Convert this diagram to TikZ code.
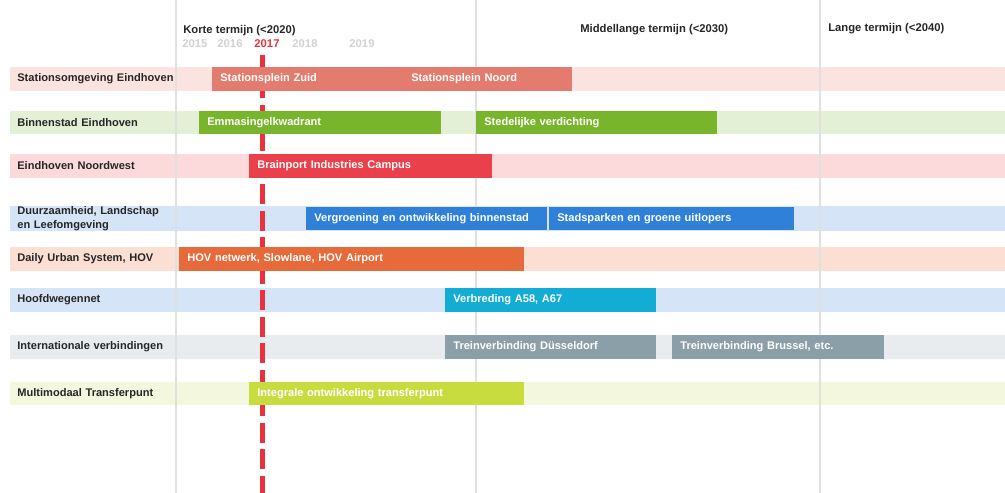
\documentclass[tikz,border=0pt]{standalone}
\usepackage{fontspec}
\setmainfont{Liberation Sans}
\usetikzlibrary{positioning}

\definecolor{stationBar}{HTML}{E37B6F}
\definecolor{stationBand}{HTML}{FBE4E0}
\definecolor{greenBar}{HTML}{78B52C}
\definecolor{greenBand}{HTML}{E3F0D6}
\definecolor{redBar}{HTML}{E9404C}
\definecolor{redBand}{HTML}{FCDADB}
\definecolor{blueBar}{HTML}{2F80D8}
\definecolor{blueBand}{HTML}{D5E5F7}
\definecolor{orangeBar}{HTML}{E66A3A}
\definecolor{orangeBand}{HTML}{FBDFD3}
\definecolor{cyanBar}{HTML}{13ACD4}
\definecolor{greyBar}{HTML}{8B9FA8}
\definecolor{greyBand}{HTML}{E9ECEE}
\definecolor{limeBar}{HTML}{C8DC40}
\definecolor{limeBand}{HTML}{F2F7DD}
\definecolor{nowRed}{HTML}{E8333F}

\begin{document}
\begin{tikzpicture}[
    x=0.02cm, y=-0.02cm,
    band/.style={
        anchor=west,
        minimum width=19.9cm,
        minimum height=0.47cm,
        text width=19.62cm,
        inner xsep=0.14cm,
        inner ysep=0pt,
        align=left,
        font=\fontsize{6.3}{7.9}\selectfont\bfseries,
        text=black!85
    },
    bar/.style={
        anchor=west,
        minimum height=0.47cm,
        inner xsep=0.16cm,
        inner ysep=0pt,
        align=left,
        font=\fontsize{6.3}{7.4}\selectfont\bfseries,
        text=white
    },
    period/.style={
        anchor=west,
        inner xsep=0pt,
        font=\fontsize{6.4}{7.4}\selectfont\bfseries,
        text=black!85
    },
    yearlbl/.style={
        font=\fontsize{6.4}{7.4}\selectfont\bfseries,
        text=black!18
    },
    gridline/.style={
        line width=1pt,
        color=black!12
    },
    nowline/.style={
        line width=0.1cm,
        color=nowRed,
        dash pattern=on 0.4cm off 0.13cm,
        dash phase=0.06cm
    }
]

\useasboundingbox (0,0) rectangle (1005,493);

% Periods and years
\node[period] (korte)  at (183, 31) {Korte termijn (<2020)};
\node[period] (middel) at (580, 30) {Middellange termijn (<2030)};
\node[period] (lange)  at (828, 29) {Lange termijn (<2040)};
\foreach \yr/\xp in {2015/195, 2016/230, 2018/305, 2019/362}
    \node[yearlbl] (y\yr) at (\xp, 44) {\yr};
\node[yearlbl, text=nowRed] (y2017) at (267, 44) {2017};

% Rows (band + label)
\node[band, fill=stationBand] (station)   at (10, 79)    {Stationsomgeving Eindhoven};
\node[band, fill=greenBand]   (binnen)    at (10, 122.5) {Binnenstad Eindhoven};
\node[band, fill=redBand]     (noordwest) at (10, 166)   {Eindhoven Noordwest};
\node[band, fill=blueBand]    (duurzaam)  at (10, 218.5) {Duurzaamheid, Landschap\\en Leefomgeving};
\node[band, fill=orangeBand]  (daily)     at (10, 259)   {Daily Urban System, HOV};
\node[band, fill=blueBand]    (hoofdweg)  at (10, 300)   {Hoofdwegennet};
\node[band, fill=greyBand]    (intl)      at (10, 347)   {Internationale verbindingen};
\node[band, fill=limeBand]    (multi)     at (10, 393.5) {Multimodaal Transferpunt};

% Period borders
\foreach \xg in {176, 476, 820}
    \draw[gridline] (\xg, 0) -- (\xg, 493);

% Today (2017)
\coordinate (nowTop) at (262, 55);
\coordinate (nowBot) at (262, 493);
\draw[nowline] (nowTop) -- (nowBot);

% Projects
\node[bar, fill=stationBar, text width=3.50cm] (zuid)   at (212, 79) {Stationsplein Zuid};
\node[bar, fill=stationBar, text width=3.06cm] (noord)  at (403, 79) {Stationsplein Noord};
\node[bar, fill=greenBar, text width=4.52cm]   (emma)   at (199, 122.5) {Emmasingelkwadrant};
\node[bar, fill=greenBar, text width=4.50cm]   (verd)   at (476, 122.5) {Stedelijke verdichting};
\node[bar, fill=redBar, text width=4.54cm]     (bic)    at (249, 166) {Brainport Industries Campus};
\node[bar, fill=blueBar, text width=4.50cm]    (groen)  at (306, 218.5) {Vergroening en ontwikkeling binnenstad};
\node[bar, fill=blueBar, text width=4.58cm]    (parken) at (549, 218.5) {Stadsparken en groene uitlopers};
\node[bar, fill=orangeBar, text width=6.58cm]  (hov)    at (179, 259) {HOV netwerk, Slowlane, HOV Airport};
\node[bar, fill=cyanBar, text width=3.90cm]    (a58)    at (445, 300) {Verbreding A58, A67};
\node[bar, fill=greyBar, text width=3.90cm]    (dus)    at (445, 347) {Treinverbinding Düsseldorf};
\node[bar, fill=greyBar, text width=3.92cm]    (bru)    at (672, 347) {Treinverbinding Brussel, etc.};
\node[bar, fill=limeBar, text width=5.18cm]    (trans)  at (249, 393.5) {Integrale ontwikkeling transferpunt};

\end{tikzpicture}
\end{document}
